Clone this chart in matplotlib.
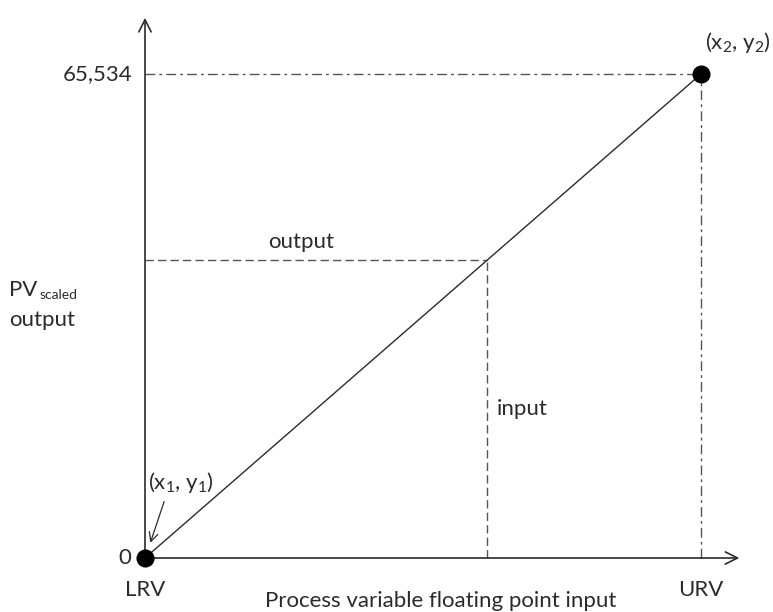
import matplotlib.pyplot as plt

plt.rcParams['font.family'] = ['Lato', 'DejaVu Sans']
plt.rcParams['mathtext.fontset'] = 'custom'
plt.rcParams['mathtext.rm'] = 'Lato'
plt.rcParams['mathtext.it'] = 'Lato:italic'
plt.rcParams['mathtext.default'] = 'regular'

# scaling endpoints: x as fraction of range LRV..URV, y as scaled output counts
x_points = [0.0, 1.0]
y_points = [0, 65534]
end_labels = ['LRV', 'URV']
y_tick_labels = ['0', '65,534']
# example input/output pair on the line
x_in = 0.615
y_out = 40350

INK = '#2b2b2b'
GREY = '#555555'

fig = plt.figure(figsize=(7.73, 6.12), dpi=100)
ax = fig.add_axes([145 / 773, 54 / 612, 556 / 773, 484 / 612])
ax.set_xlim(0, 1)
ax.set_ylim(0, 65534)
ax.axis('off')

# axes with arrow heads
ax.annotate('', xy=(0, 73520), xytext=(0, 0),
            arrowprops=dict(arrowstyle='->', color=INK, lw=1.2,
                            mutation_scale=22), annotation_clip=False)
ax.annotate('', xy=(1.074, 0), xytext=(0, 0),
            arrowprops=dict(arrowstyle='->', color=INK, lw=1.2,
                            mutation_scale=22), annotation_clip=False)

# reference lines to the top-right point
ax.plot([0, x_points[1]], [y_points[1]] * 2, color=GREY, lw=1,
        dashes=[7, 3, 2, 3], clip_on=False)
ax.plot([x_points[1]] * 2, [0, y_points[1]], color=GREY, lw=1,
        dashes=[7, 3, 2, 3], clip_on=False)

# input / output projections
ax.plot([0, x_in], [y_out, y_out], color=GREY, lw=1, dashes=[6, 3], clip_on=False)
ax.plot([x_in, x_in], [0, y_out], color=GREY, lw=1, dashes=[6, 3], clip_on=False)

# scaling line and endpoints
ax.plot(x_points, y_points, color=INK, lw=1, clip_on=False)
ax.plot(x_points, y_points, 'o', color='black', ms=12, clip_on=False, zorder=5)

fs = 16
ax.text(-0.023, y_points[1], y_tick_labels[1], ha='right', va='center',
        fontsize=fs, color=INK)
ax.text(-0.024, y_points[0], y_tick_labels[0], ha='right', va='center',
        fontsize=fs, color=INK)
ax.text(x_points[0], -4400, end_labels[0], ha='center', va='center',
        fontsize=fs, color=INK)
ax.text(x_points[1], -4400, end_labels[1], ha='center', va='center',
        fontsize=fs, color=INK)
ax.text(0.532, -5800, 'Process variable floating point input', ha='center',
        va='center', fontsize=fs, color=INK)

ax.text(x_points[1] + 0.008, 69800, '(x$_2$, y$_2$)', ha='left', va='center',
        fontsize=fs, color=INK)
ax.text(0.005, 10200, '(x$_1$, y$_1$)', ha='left', va='center',
        fontsize=fs, color=INK)
ax.annotate('', xy=(0.008, 1700), xytext=(0.036, 8000),
            arrowprops=dict(arrowstyle='->', color=INK, lw=0.9,
                            mutation_scale=16))

ax.text(0.28, y_out + 2400, 'output', ha='center', va='center',
        fontsize=fs, color=INK)
ax.text(x_in + 0.017, 20200, 'input', ha='left', va='center',
        fontsize=fs, color=INK)

pv = ax.text(-0.245, 35500, 'PV', ha='left', va='baseline', fontsize=fs, color=INK)
ax.annotate('scaled', xy=(1, 0), xycoords=pv, xytext=(2, -1),
            textcoords='offset points', ha='left', va='bottom',
            fontsize=10, color=INK)
ax.text(-0.245, 32200, 'output', ha='left', va='center', fontsize=fs, color=INK)

fig.savefig('out.png', dpi=100)
